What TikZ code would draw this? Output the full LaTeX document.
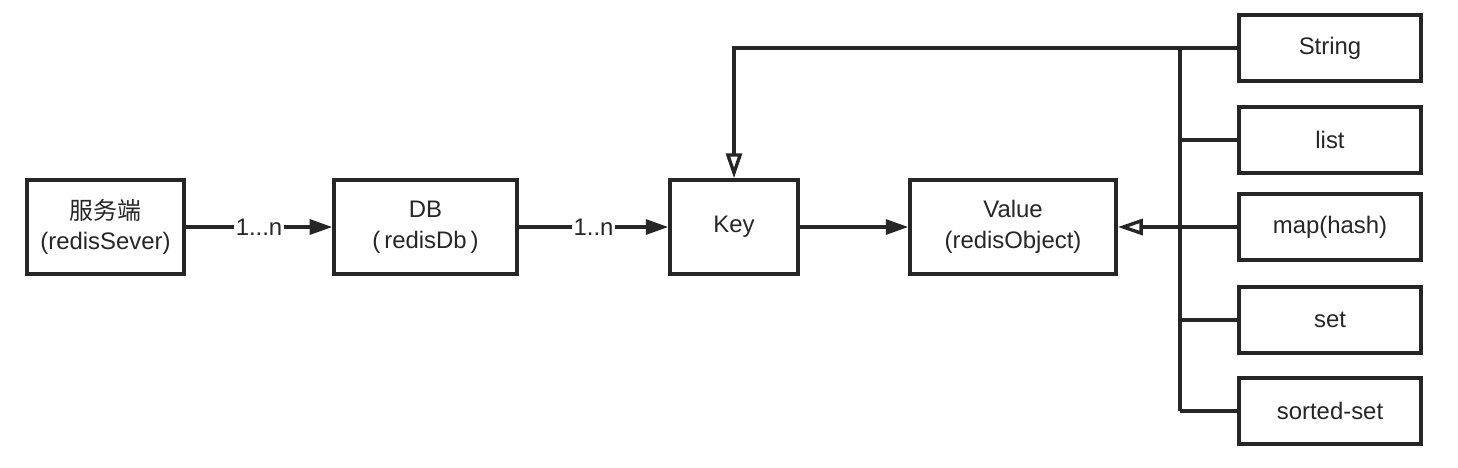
\documentclass[tikz,border=0pt]{standalone}
\usepackage{fontspec}
\setmainfont{Liberation Sans}
\newfontfamily\cjk{Noto Sans CJK SC}
\usepackage{tikz}
\usetikzlibrary{positioning,arrows.meta}
\definecolor{ink}{HTML}{262626}

\begin{document}
\begin{tikzpicture}[
  every node/.style={font=\fontsize{13.6}{17.5}\selectfont, text=ink},
  box/.style={draw=ink, line width=2pt, minimum height=1.88cm, align=center},
  typebox/.style={draw=ink, line width=2pt, minimum width=3.64cm, minimum height=1.32cm},
  link/.style={draw=ink, line width=1.9pt},
  solid tip/.style={-{Triangle[length=0.45cm, width=0.3cm]}},
  open tip/.style={-{Triangle[open, length=0.5cm, width=0.32cm, line width=1.9pt]}}
]
\useasboundingbox (0,0) rectangle (29.16,-9.34);

\node[box, minimum width=3.14cm] (server) at (2.11,-4.54) {{\cjk 服务端}\\(redisSever)};
\node[box, minimum width=3.66cm] (db) at (8.51,-4.54) {DB\\(\,redisDb\,)};
\node[box, minimum width=2.56cm] (key) at (14.68,-4.54) {Key};
\node[box, minimum width=4.12cm] (value) at (20.26,-4.54) {Value\\(redisObject)};

\node[typebox] (string) at (26.6,-0.96) {String};
\node[typebox] (list) at (26.6,-2.8) {list};
\node[typebox] (map) at (26.6,-4.54) {map(hash)};
\node[typebox] (set) at (26.6,-6.4) {set};
\node[typebox] (sorted) at (26.6,-8.22) {sorted-set};

\coordinate (bustop) at (23.6,-0.96);
\coordinate (busbot) at (23.6,-8.22);

\draw[link, solid tip] (server) -- node[fill=white, inner sep=1pt] {1...n} (db);
\draw[link, solid tip] (db) -- node[fill=white, inner sep=1pt] {1..n} (key);
\draw[link, solid tip] (key) -- (value);

\draw[link, open tip] (string.west) -| (key.north);
\draw[link, open tip] (map.west) -- (value.east);
\draw[link] (bustop) -- (busbot);
\draw[link] (list.west) -- (list.west -| bustop);
\draw[link] (set.west) -- (set.west -| bustop);
\draw[link] (sorted.west) -- (busbot);
\end{tikzpicture}
\end{document}
